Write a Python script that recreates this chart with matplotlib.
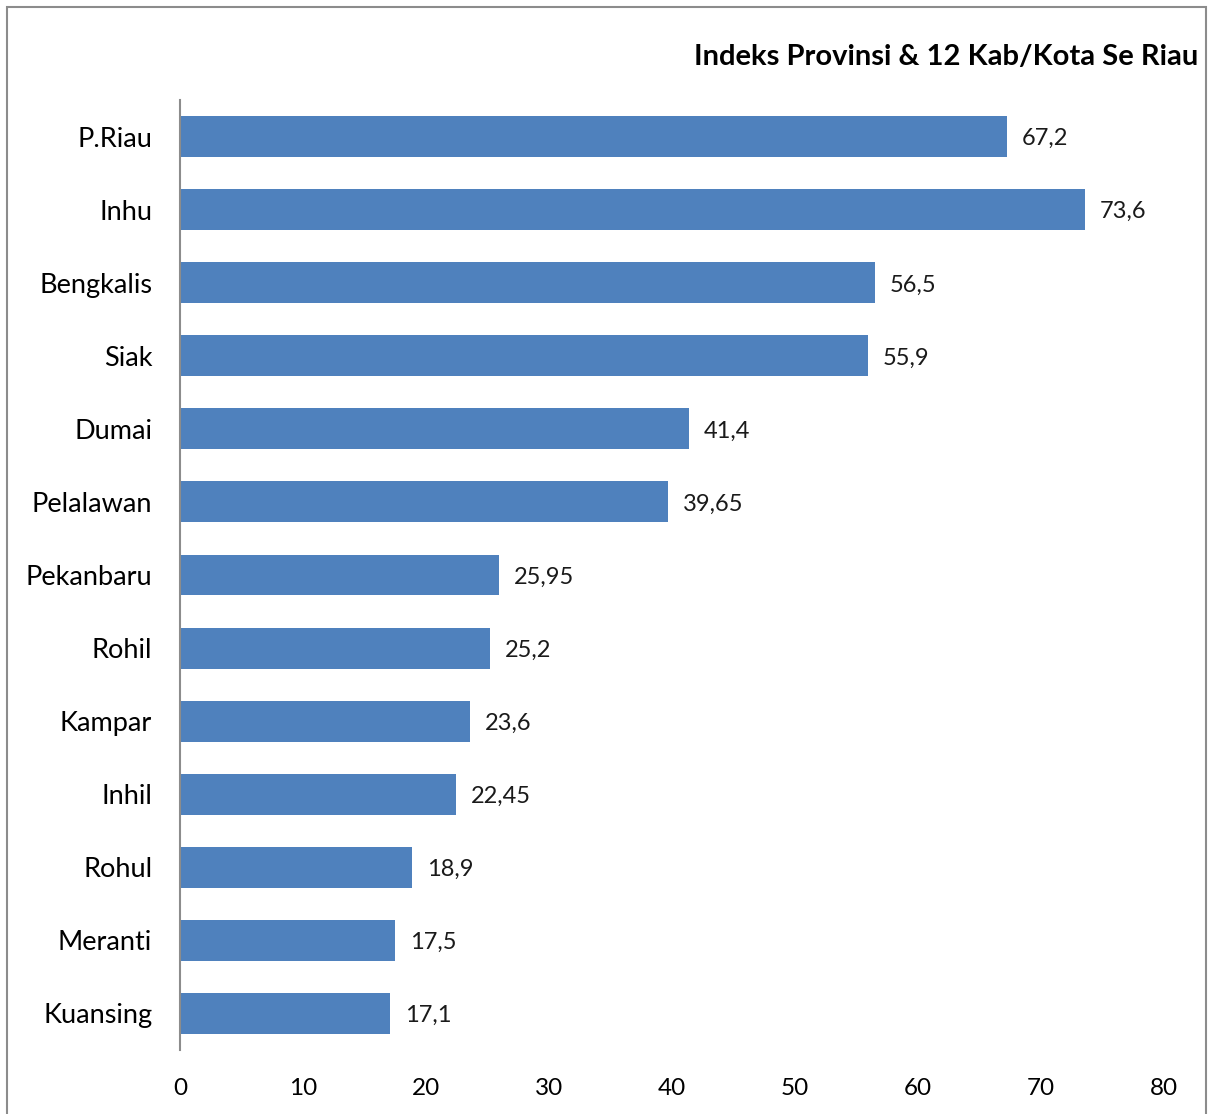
import numpy as np
import matplotlib.pyplot as plt
from matplotlib.patches import Rectangle

plt.rcParams['font.family'] = ['Lato', 'DejaVu Sans']

wilayah = ['P.Riau', 'Inhu', 'Bengkalis', 'Siak', 'Dumai', 'Pelalawan', 'Pekanbaru',
           'Rohil', 'Kampar', 'Inhil', 'Rohul', 'Meranti', 'Kuansing']
indeks = [67.2, 73.6, 56.5, 55.9, 41.4, 39.65, 25.95, 25.2, 23.6, 22.45, 18.9, 17.5, 17.1]
label_nilai = ['67,2', '73,6', '56,5', '55,9', '41,4', '39,65', '25,95',
               '25,2', '23,6', '22,45', '18,9', '17,5', '17,1']
xticks = [0, 10, 20, 30, 40, 50, 60, 70, 80]

W, H = 1210, 1114
fig = plt.figure(figsize=(W / 100, H / 100), dpi=100)

# bingkai abu-abu di sekeliling chart
fig.patches.append(Rectangle((7 / W, -0.01), 1199 / W, 1 - 7 / H + 0.01,
                             transform=fig.transFigure, fill=False,
                             edgecolor='#8c8c8c', linewidth=1.5))

ax = fig.add_axes([180 / W, 1 - 1050 / H, (1164 - 180) / W, 950 / H])
y = np.arange(len(wilayah))
ax.barh(y, indeks, height=0.56, color='#4f81bd')

for yi, v, t in zip(y, indeks, label_nilai):
    ax.text(v + 1.2, yi + 0.03, t, va='center', ha='left', fontsize=17, color='#1a1a1a')

ax.set_xlim(0, 80)
ax.set_ylim(len(wilayah) - 0.5, -0.5)
ax.set_yticks(y)
ax.set_yticklabels(wilayah, fontsize=19.5)
ax.set_xticks(xticks)
ax.set_xticklabels([str(x) for x in xticks], fontsize=17.5)
ax.tick_params(axis='y', length=0, pad=20)
ax.tick_params(axis='x', length=0, pad=20)

for s in ['top', 'right', 'bottom']:
    ax.spines[s].set_visible(False)
ax.spines['left'].set_color('#8c8c8c')
ax.spines['left'].set_linewidth(1.5)

fig.text(1198 / W, 1 - 57 / H, 'Indeks Provinsi & 12 Kab/Kota Se Riau',
         ha='right', va='center', fontsize=21, fontweight='bold')

fig.savefig('out.png', dpi=100)
